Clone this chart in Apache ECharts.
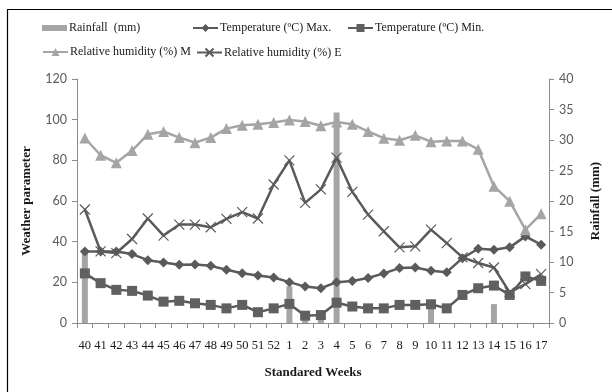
<!DOCTYPE html>
<html>
<head>
<meta charset="utf-8">
<script src="https://cdn.jsdelivr.net/npm/echarts@6/dist/echarts.min.js"></script>
<style>
  html, body { margin: 0; padding: 0; background: #fff; }
  #chart { width: 612px; height: 392px; }
</style>
</head>
<body>
<div id="chart"></div>
<script>
const weeks = ['40', '41', '42', '43', '44', '45', '46', '47', '48', '49', '50', '51', '52',
  '1', '2', '3', '4', '5', '6', '7', '8', '9', '10', '11', '12', '13', '14', '15', '16', '17'];

const rainfall = [12, 0, 0, 0, 0, 0, 0, 0, 0, 0, 0, 0, 0,
  6, 0.5, 1, 34.5, 0, 0, 0, 0, 0, 3, 0, 0, 0, 3.1, 0, 0, 0];

const tempMax = [35.2, 35.2, 35.2, 33.9, 30.9, 29.8, 28.6, 28.8, 28.1, 26.2, 24.5, 23.4, 22.4,
  20.1, 17.9, 17.1, 20.1, 20.7, 22.1, 24.4, 27, 27.3, 25.7, 25, 31.9, 36.5, 36, 37.2, 42.6, 38.5];

const tempMin = [24.4, 19.6, 16.3, 15.8, 13.5, 10.5, 10.9, 9.7, 8.9, 7.2, 8.9, 5.3, 7.2,
  9.4, 3.6, 3.9, 10, 8.1, 7.2, 7.2, 8.9, 8.9, 9.2, 7.2, 13.8, 17.1, 18.4, 13.8, 22.9, 20.7];

const rhMorning = [91, 82.5, 78.8, 84.8, 92.8, 94.2, 91.2, 88.7, 91.2, 95.6, 97.3, 97.8, 98.6,
  99.8, 99.1, 97, 98.9, 97.8, 94.2, 90.9, 89.9, 92.3, 89.2, 89.5, 89.5, 85.4, 67.3, 59.9, 45.9, 53.7];

const rhEvening = [55.8, 35.2, 34.4, 41.3, 51.4, 43, 48.4, 48.4, 47.1, 51.2, 54.5, 51.4, 68.1,
  80, 59.1, 65.7, 81.3, 64.5, 53.3, 45.1, 37.2, 37.7, 45.9, 39.3, 32.3, 29.5, 27.3, 15.1, 19.1, 24];

const leftTicks = [0, 120, 20];
const rightTicks = [0, 40, 5];

const names = ['Rainfall  (mm)', 'Temperature (ºC) Max.', 'Temperature (ºC) Min.',
  'Relative humidity (%) M', 'Relative humidity (%) E'];

const dark = '#5a5a5a';
const light = '#a5a5a5';
const axisGray = '#8c8c8c';
const serif = 'Liberation Serif';

const chart = echarts.init(document.getElementById('chart'));

function legendAt(name, left, top, extra) {
  return Object.assign({
    data: [name],
    left: left,
    top: top,
    itemWidth: 25,
    itemHeight: 10,
    padding: 0,
    selectedMode: false,
    textStyle: { fontFamily: serif, fontSize: 12, color: '#1a1a1a', padding: [0, 0, 0, -3] }
  }, extra || {});
}

const option = {
  backgroundColor: '#fff',
  animation: false,
  graphic: [{
    type: 'rect',
    shape: { x: 7.5, y: 9.5, width: 640, height: 420 },
    style: { fill: 'none', stroke: '#000', lineWidth: 1.2 },
    silent: true
  }],
  legend: [
    legendAt(names[0], 42, 22, { itemHeight: 6, icon: 'rect' }),
    legendAt(names[1], 192, 22),
    legendAt(names[2], 347, 22),
    legendAt(names[3], 42, 46),
    legendAt(names[4], 196, 46)
  ],
  grid: { left: 77, right: 63, top: 79, bottom: 69 },
  xAxis: {
    type: 'category',
    data: weeks,
    name: 'Standared Weeks',
    nameLocation: 'middle',
    nameGap: 43,
    nameTextStyle: { fontFamily: serif, fontSize: 13, fontWeight: 'bold', color: '#1a1a1a' },
    axisLine: { lineStyle: { color: axisGray, width: 1 } },
    axisTick: { show: true, length: 5, lineStyle: { color: axisGray } },
    axisLabel: { interval: 0, margin: 16, fontFamily: serif, fontSize: 12.5, color: '#1a1a1a' }
  },
  yAxis: [{
    type: 'value',
    min: leftTicks[0],
    max: leftTicks[1],
    interval: leftTicks[2],
    name: 'Weather parameter',
    nameLocation: 'middle',
    nameRotate: 90,
    nameGap: 44,
    nameTextStyle: { fontFamily: serif, fontSize: 13, fontWeight: 'bold', color: '#1a1a1a' },
    axisLine: { show: true, lineStyle: { color: axisGray, width: 1 } },
    axisTick: { show: true, length: 5, lineStyle: { color: axisGray } },
    splitLine: { show: false },
    axisLabel: { margin: 10, fontFamily: 'Lato', fontSize: 12.5, color: dark }
  }, {
    type: 'value',
    min: rightTicks[0],
    max: rightTicks[1],
    interval: rightTicks[2],
    name: 'Rainfall (mm)',
    nameLocation: 'middle',
    nameRotate: 90,
    nameGap: 40,
    nameTextStyle: { fontFamily: serif, fontSize: 13, fontWeight: 'bold', color: '#1a1a1a' },
    axisLine: { show: true, lineStyle: { color: axisGray, width: 1 } },
    axisTick: { show: true, length: 5, lineStyle: { color: axisGray } },
    splitLine: { show: false },
    axisLabel: { margin: 10, fontFamily: 'Lato', fontSize: 12.5, color: dark }
  }],
  series: [{
    name: names[0],
    type: 'bar',
    yAxisIndex: 1,
    data: rainfall,
    barWidth: 6,
    z: 1,
    itemStyle: { color: light }
  }, {
    name: names[1],
    type: 'line',
    data: tempMax,
    symbol: 'diamond',
    symbolSize: 10,
    z: 3,
    lineStyle: { color: dark, width: 2.5 },
    itemStyle: { color: dark }
  }, {
    name: names[2],
    type: 'line',
    data: tempMin,
    symbol: 'rect',
    symbolSize: 10,
    z: 3,
    lineStyle: { color: dark, width: 2.5 },
    itemStyle: { color: '#606060' }
  }, {
    name: names[3],
    type: 'line',
    data: rhMorning,
    symbol: 'triangle',
    symbolSize: 11,
    z: 3,
    lineStyle: { color: light, width: 2.5 },
    itemStyle: { color: light }
  }, {
    name: names[4],
    type: 'line',
    data: rhEvening,
    symbol: 'path://M0,0L10,10M10,0L0,10',
    symbolSize: 10,
    z: 3,
    lineStyle: { color: dark, width: 2.5 },
    itemStyle: { color: 'none', borderColor: dark, borderWidth: 1.2 }
  }]
};

chart.setOption(option);
</script>
</body>
</html>
